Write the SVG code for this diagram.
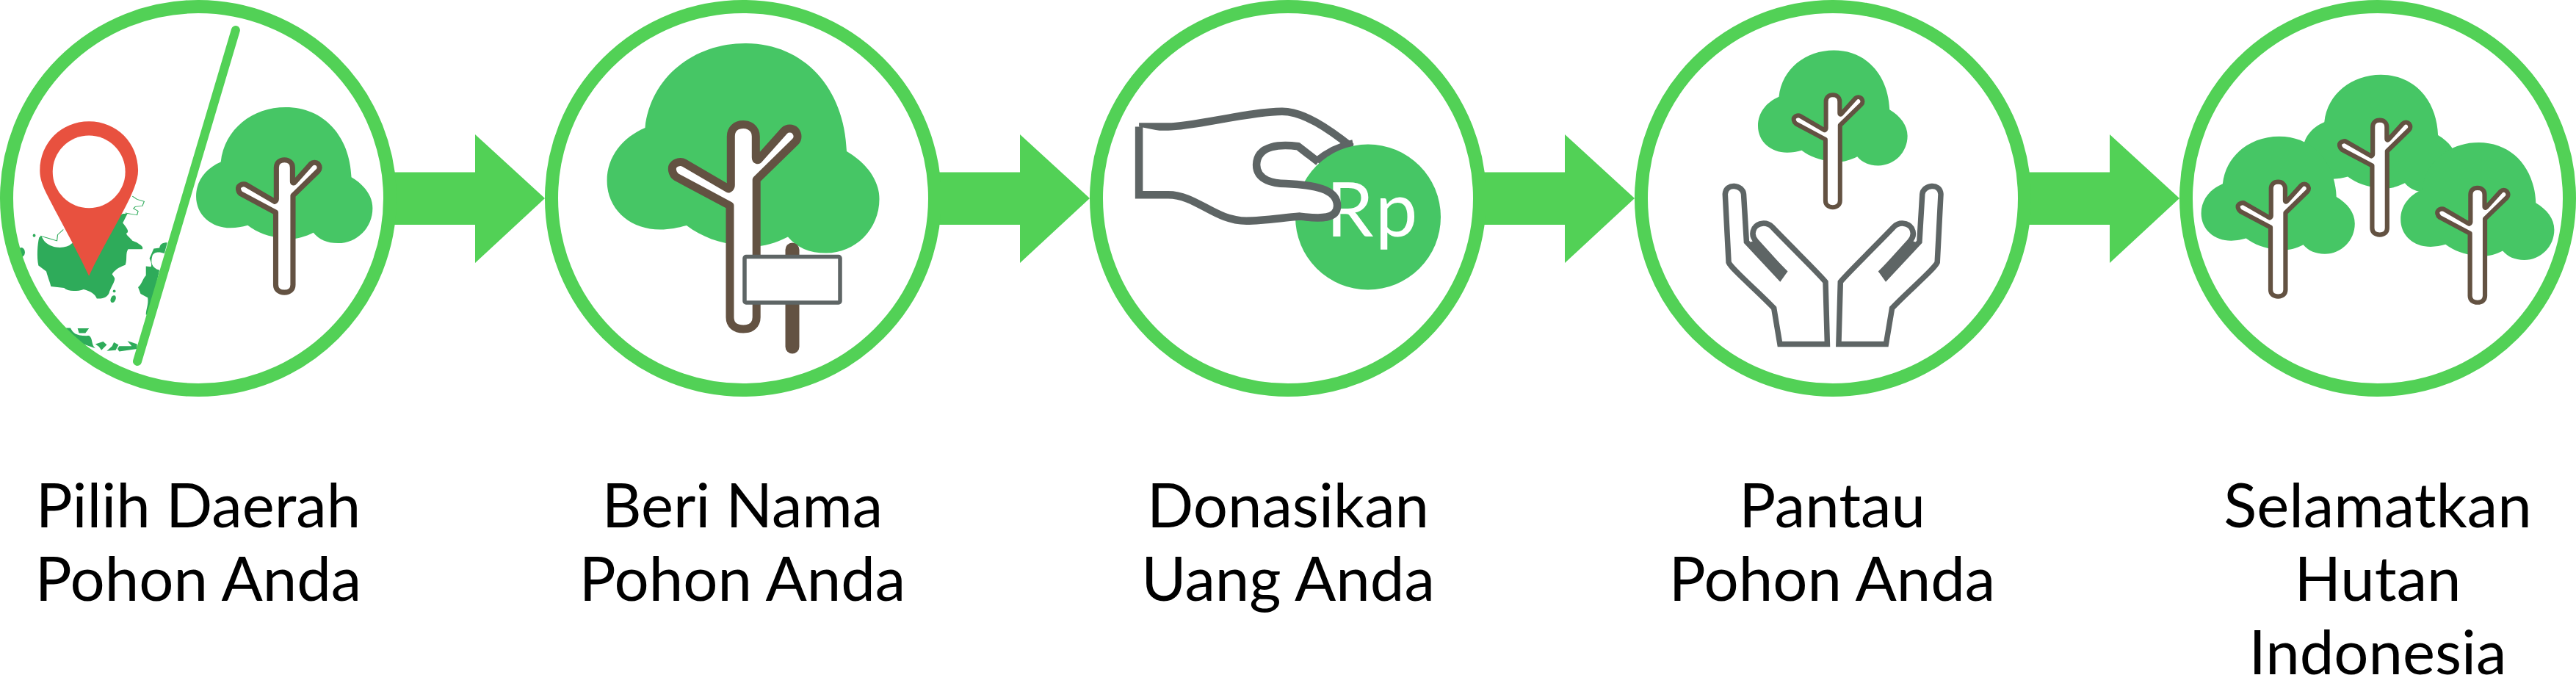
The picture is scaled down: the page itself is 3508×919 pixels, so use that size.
<svg xmlns="http://www.w3.org/2000/svg" xmlns:xlink="http://www.w3.org/1999/xlink" width="3508" height="919" viewBox="0 0 3508 919">
<style>
.ring{fill:#fff;stroke:#52D156;stroke-width:18}
.arrow{fill:#52D156}
.crown{fill:#46C665}
.trunk{fill:#fff;stroke:#635242;stroke-width:11;stroke-linejoin:round}
.gray{stroke:#5E6565;stroke-linejoin:miter}
.map{fill:#2EAB5A}
.mapline{fill:none;stroke:#2EAB5A;stroke-width:2.400}
.label{font-family:"Lato","Liberation Sans",sans-serif;font-size:83.300px;fill:#000;text-anchor:middle}
</style>
<defs>
<g id="tree">
<path class="crown" d="M878.5 174C886 105 945 59 1015 59C1095 59 1150 120 1153 206C1180 222 1197.5 245 1197.5 271C1197.5 312 1165 344.6 1125 344.6C1102 344.6 1085 337 1073 322.5C1050 334 1030 338 1010 334C980 332 955 322 935 307C923 310 912 312.5 899 312.5C858 312.5 826.6 285 826.6 246C826.6 213 848 187 878.5 174Z"/>
<path class="trunk" d="M995.3 185.7C995.3 176 1002 169.6 1012.3 169.6C1022 169.6 1029.3 176 1029.3 185.7L1029.3 214.3C1029.3 218 1032 219 1034 216L1068 178C1072 174 1079 174 1083 178C1087 183 1087 189 1083 193L1030.2 244.6L1030.2 432C1030.2 442 1023 448 1012.3 448C1001 448 994 442 994 432L994 280L921 241C915 237 914 228 917 225C920 221 927 219 932 222L992 257C994 256 995.3 254 995.3 252Z"/>
</g>
<path id="hand" fill="#fff" class="gray" stroke-width="7.500" d="M223.9 468.5L288.4 468.5L286 383.9C281.1 376.7 242.4 339.2 213.3 308.9C206 301.8 193.9 302.8 189 310.7C185.2 317.8 186.6 323.2 191.500 328.500L229.3 370.3L223.9 377.800L178.4 329.2L174.5 264.3C173.5 251.8 150.3 248.2 149.3 264.3L154.1 357.1C157.5 366 193.9 396.4 215.7 419.6Z"/>
<polygon id="wedge" fill="#5E6565" points="181.8,330.3 223.9,378.5 234.6,369.6 191.5,326.8"/>
</defs>
<rect width="3508" height="919" fill="#fff"/>
<g id="connectors">
<polygon class="arrow" points="530,234.6 647,234.6 647,183 742,270 647,358 647,306 530,306"/>
<polygon class="arrow" points="1272,234.6 1389,234.6 1389,183 1484,270 1389,358 1389,306 1272,306"/>
<polygon class="arrow" points="2014,234.6 2131,234.6 2131,183 2226,270 2131,358 2131,306 2014,306"/>
<polygon class="arrow" points="2756,234.6 2873,234.6 2873,183 2968,270 2873,358 2873,306 2756,306"/>
</g>
<g id="node1">
<circle cx="270" cy="270" r="261" fill="#fff"/>
<g transform="scale(.4847 .3571)">
<path class="map" d="M110 905C105 930 103 980 108 1012L130 1035C135 1060 140 1075 143 1092L180 1098C190 1112 215 1112 235 1103C255 1110 268 1122 272 1138C290 1140 305 1132 308 1110C316 1085 324 1070 322 1060L315 1045C322 1030 332 1020 352 1010C358 990 352 965 360 950L400 950C405 938 388 930 385 925L372 918C365 905 355 898 355 890C362 885 362 878 345 850L358 815L345 815L200 930C190 945 150 955 125 920L115 900Z"/>
<path class="map" d="M470 925C455 925 450 932 448 945L432 948L420 985C425 1000 427 1010 424 1017L410 1015L410 1050C400 1065 398 1085 388 1095L395 1120L415 1135C418 1160 410 1180 410 1200L420 1200L448 1030C425 1020 423 1000 428 975C433 958 450 960 462 966Z"/>
<path class="map" d="M180 1250L198 1250C205 1270 215 1282 250 1280C262 1290 255 1315 268 1328L230 1310C205 1295 190 1275 175 1258Z"/>
<path class="map" d="M218 1252L250 1252L240 1270L222 1270ZM268 1312L290 1302L300 1315L285 1335L278 1322ZM320 1305L333 1315L325 1335L300 1338L315 1320ZM335 1320L370 1320L358 1300L370 1305L385 1312L385 1330L335 1340L330 1330Z"/>
<ellipse class="map" cx="96" cy="898" rx="4" ry="6"/>
<ellipse class="map" cx="60" cy="962" rx="10" ry="18"/>
<ellipse class="map" cx="321" cy="1110" rx="4" ry="5"/>
<ellipse class="map" cx="318" cy="1140" rx="7" ry="14" transform="rotate(15 318 1140)"/>
<path class="mapline" d="M352 812L385 820L388 805L375 795L380 788L400 785L405 768L385 760L372 748M178 875L162 895L160 918L135 908L115 900L120 915"/>
<path fill="#E8513F" d="M250 1052C215 950 165 830 135 750C118 705 112 680 112 650C112 545 172 463 250 463C328 463 388 545 388 650C388 680 380 710 365 755C335 840 285 950 250 1052Z"/>
<ellipse cx="250" cy="655" rx="102" ry="138.500" fill="#fff"/>
</g>
<circle class="ring" cx="270" cy="270" r="261" style="fill:none"/>
<line x1="320.900" y1="41" x2="187" y2="492" stroke="#52D156" stroke-width="12" stroke-linecap="round"/>
<use xlink:href="#tree" href="#tree" transform="translate(-268.600 107.800) scale(.648)"/>
</g>
<g id="node2">
<circle class="ring" cx="1012" cy="270" r="261"/>
<use xlink:href="#tree" href="#tree"/>
<line x1="1079" y1="340" x2="1079" y2="472" stroke="#635242" stroke-width="19" stroke-linecap="round"/>
<rect x="1014" y="349.500" width="130" height="62.500" rx="2" fill="#fff" stroke="#5E6565" stroke-width="5.500"/>
</g>
<g id="node3">
<circle class="ring" cx="1754" cy="270" r="261"/>
<g transform="translate(1460 0)">
<path fill="none" class="gray" stroke-width="10.500" d="M380.5 200C349 175 315.1 151.8 286 151.800C242.4 151.800 164.8 172.5 130.9 172.500L91.100 172.500"/>
<path fill="none" class="gray" stroke-width="14" d="M334.4 220.7C346.600 210.7 361.1 201.800 382.9 197.1"/>
</g>
<circle cx="1863" cy="295.500" r="99" fill="#46C665"/>
<text x="1806" y="321.500" font-family="Lato,&quot;Liberation Sans&quot;,sans-serif" font-size="103" letter-spacing="3" fill="#fff">Rp</text>
<g transform="translate(1460 0)">
<path fill="#fff" class="gray" stroke-width="10.500" d="M335.4 220.7L307.8 199.3C286 196.4 252 196.4 251.1 224.3C251.1 246.4 276.3 250 290.8 250C329.6 251.800 361.1 257.1 361.1 280.3C361.1 298.200 339.3 298.200 310.2 294.6C286 296.4 261.7 300.7 237.5 300.7C193.9 300.7 169.6 265.3 130.9 265.3L91.100 265.3L91.100 172.500"/>
</g>
</g>
<g id="node4">
<circle class="ring" cx="2496" cy="270" r="261"/>
<use xlink:href="#tree" href="#tree" transform="translate(1940.200 36.200) scale(.549)"/>
<g transform="translate(2200 0)"><use xlink:href="#hand" href="#hand"/><use xlink:href="#wedge" href="#wedge"/></g>
<g transform="translate(2792.300 0) scale(-1 1)"><use xlink:href="#hand" href="#hand"/><use xlink:href="#wedge" href="#wedge"/></g>
</g>
<g id="node5">
<circle class="ring" cx="3238" cy="270" r="261"/>
<use xlink:href="#tree" href="#tree" transform="translate(2669.800 68.700) scale(.564 .56)"/>
<use xlink:href="#tree" href="#tree" transform="translate(2531.400 152.700) scale(.564 .56)"/>
<use xlink:href="#tree" href="#tree" transform="translate(2803 160.900) scale(.564 .56)"/>
</g>
<g id="labels">
<text class="label" x="270" y="718">Pilih Daerah</text>
<text class="label" x="270" y="818">Pohon Anda</text>
<text class="label" x="1011" y="718">Beri Nama</text>
<text class="label" x="1011" y="818">Pohon Anda</text>
<text class="label" x="1754" y="718">Donasikan</text>
<text class="label" x="1754" y="818">Uang Anda</text>
<text class="label" x="2495" y="718">Pantau</text>
<text class="label" x="2495" y="818">Pohon Anda</text>
<text class="label" x="3238" y="718">Selamatkan</text>
<text class="label" x="3238" y="818">Hutan</text>
<text class="label" x="3238" y="918">Indonesia</text>
</g>
</svg>
